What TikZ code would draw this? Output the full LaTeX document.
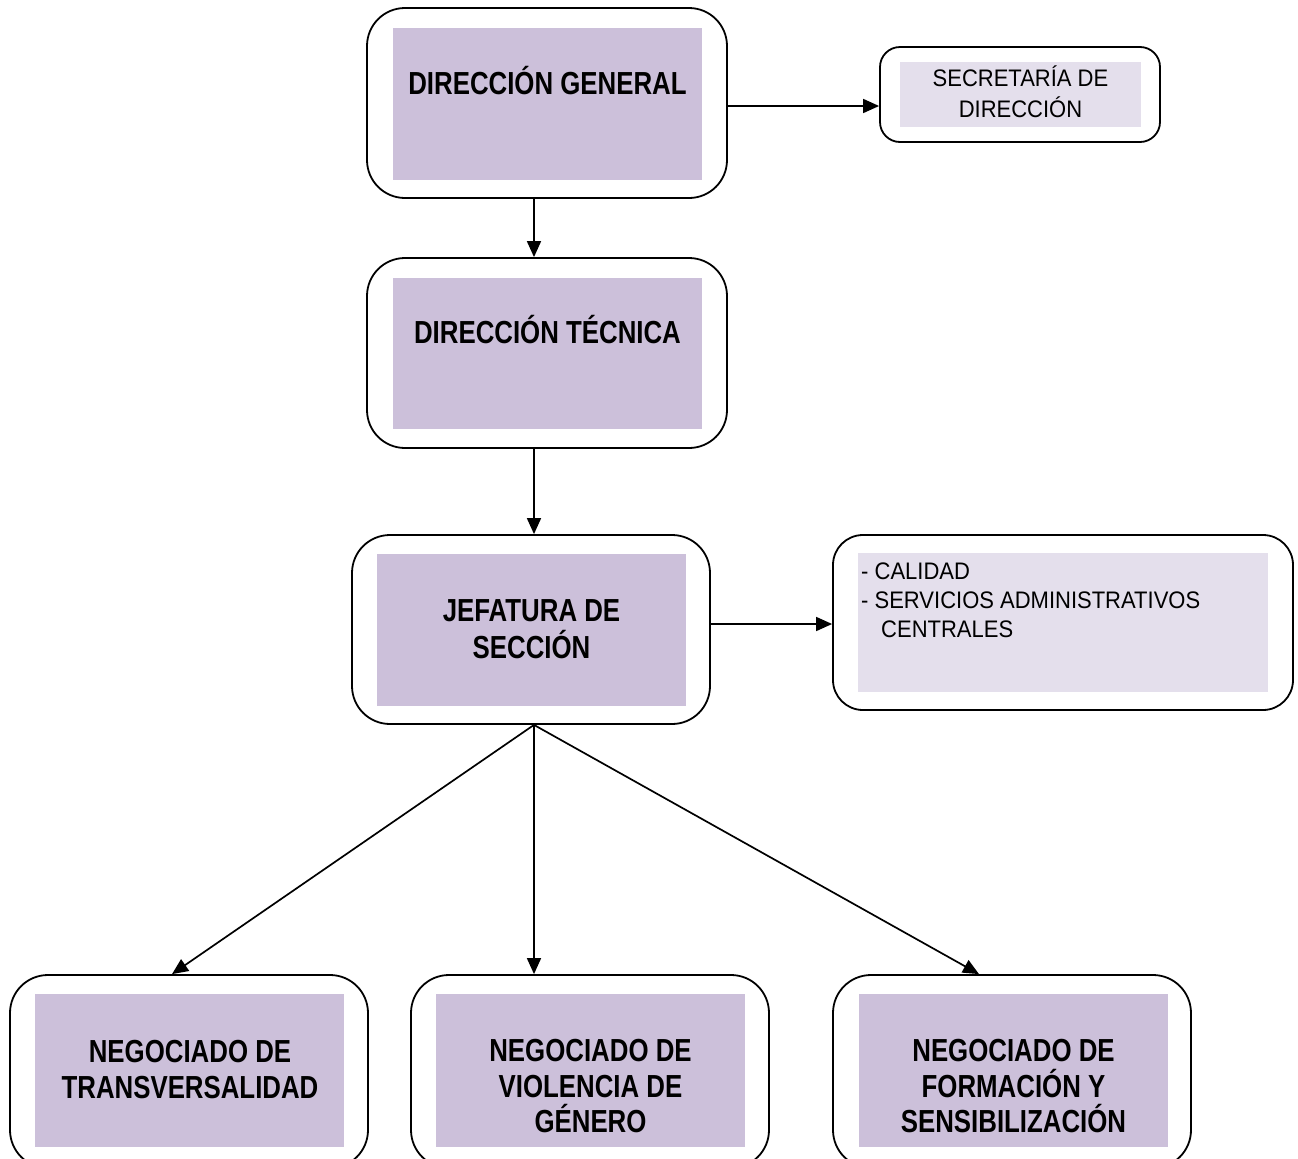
\documentclass[tikz,border=0pt]{standalone}
\usepackage{fontspec}
\setmainfont{Liberation Sans}
\newfontfamily\boldnarrow{Liberation Sans}[FakeStretch=0.81]
\newfontfamily\regnarrow{Liberation Sans}[FakeStretch=0.92]
\usetikzlibrary{arrows.meta}
\definecolor{darklilac}{HTML}{CCC0DA}
\definecolor{lightlilac}{HTML}{E4DFEC}
\begin{document}
\begin{tikzpicture}[x=1bp,y=-1bp,
  outerbox/.style={draw=black, line width=1.8bp, inner sep=0pt, rounded corners=#1},
  outerbox/.default=38bp,
  innerbox/.style={fill=#1, inner sep=0pt},
  bigtext/.style={font=\boldnarrow\bfseries\fontsize{32}{35.5}\selectfont, align=center, anchor=base, inner sep=0pt},
  smalltext/.style={font=\regnarrow\fontsize{24}{31}\selectfont, align=center, anchor=base, inner sep=0pt},
  arr/.style={line width=1.7bp, -{Triangle[length=16bp,width=14bp]}}
]
\useasboundingbox (0,0) rectangle (1298,1159);
\clip (0,0) rectangle (1298,1159);

% Direccion General
\node[outerbox, minimum width=360bp, minimum height=190bp] (DG) at (547,103) {};
\node[innerbox=darklilac, minimum width=309bp, minimum height=152bp] (DGi) at (547.5,104) {};
\node[bigtext] (DGt) at (547.5,94.5) {DIRECCIÓN GENERAL};

% Direccion Tecnica
\node[outerbox, minimum width=360bp, minimum height=190bp] (DT) at (547,353) {};
\node[innerbox=darklilac, minimum width=309bp, minimum height=151bp] (DTi) at (547.5,353.5) {};
\node[bigtext] (DTt) at (547.5,343.5) {DIRECCIÓN TÉCNICA};

% Jefatura de Seccion
\node[outerbox, minimum width=358bp, minimum height=189bp] (JS) at (531,629.5) {};
\node[innerbox=darklilac, minimum width=309bp, minimum height=152bp] (JSi) at (531.5,630) {};
\node[bigtext, font=\boldnarrow\bfseries\fontsize{32}{37}\selectfont] (JSt) at (531.5,658.5) {JEFATURA DE\\SECCIÓN};

% Secretaria de Direccion
\node[outerbox=20bp, minimum width=280bp, minimum height=95bp] (Sec) at (1020,94.5) {};
\node[innerbox=lightlilac, minimum width=241bp, minimum height=65bp] (Seci) at (1020.5,94.5) {};
\node[smalltext] (Sect) at (1020.5,117.6) {SECRETARÍA DE\\DIRECCIÓN};

% Calidad
\node[outerbox=30bp, minimum width=460bp, minimum height=175bp] (Cal) at (1063,622.5) {};
\node[innerbox=lightlilac, minimum width=410bp, minimum height=139bp] (Cali) at (1063,622.5) {};
\node[smalltext, font=\regnarrow\fontsize{24}{29}\selectfont, align=left, anchor=base west] (Calt) at (861,637)
  {- CALIDAD\\- SERVICIOS ADMINISTRATIVOS\\\hspace*{20bp}CENTRALES};

% Negociados
\node[outerbox, minimum width=358bp, minimum height=193bp] (NT) at (189,1071.5) {};
\node[innerbox=darklilac, minimum width=309bp, minimum height=153bp] (NTi) at (189.5,1070.5) {};
\node[bigtext, font=\boldnarrow\bfseries\fontsize{32}{36}\selectfont] (NTt) at (190,1098.5) {NEGOCIADO DE\\TRANSVERSALIDAD};

\node[outerbox, minimum width=358bp, minimum height=193bp] (NV) at (590,1071.5) {};
\node[innerbox=darklilac, minimum width=309bp, minimum height=153bp] (NVi) at (590.5,1070.5) {};
\node[bigtext] (NVt) at (590.5,1132.5) {NEGOCIADO DE\\VIOLENCIA DE\\GÉNERO};

\node[outerbox, minimum width=358bp, minimum height=193bp] (NF) at (1012,1071.5) {};
\node[innerbox=darklilac, minimum width=309bp, minimum height=153bp] (NFi) at (1013.5,1070.5) {};
\node[bigtext] (NFt) at (1013.5,1132.5) {NEGOCIADO DE\\FORMACIÓN Y\\SENSIBILIZACIÓN};

% Connectors
\draw[arr] ([xshift=-13bp]DG.south) -- ([xshift=-13bp]DT.north);
\draw[arr] ([xshift=-13bp]DT.south) -- ([xshift=3bp]JS.north);
\draw[arr] ([yshift=-3bp]DG.east) -- ([yshift=-3bp]DG.east -| Sec.west);
\draw[arr] ([yshift=-1.5bp]JS.east |- Cal.west) -- ([yshift=-1.5bp]Cal.west);
\coordinate (fan) at ([xshift=3bp]JS.south);
\draw[arr] (fan) -- ([xshift=-17bp]NT.north);
\draw[arr] (fan) -- ([xshift=-56bp]NV.north);
\draw[arr] (fan) -- ([xshift=-33bp]NF.north);
\end{tikzpicture}
\end{document}
